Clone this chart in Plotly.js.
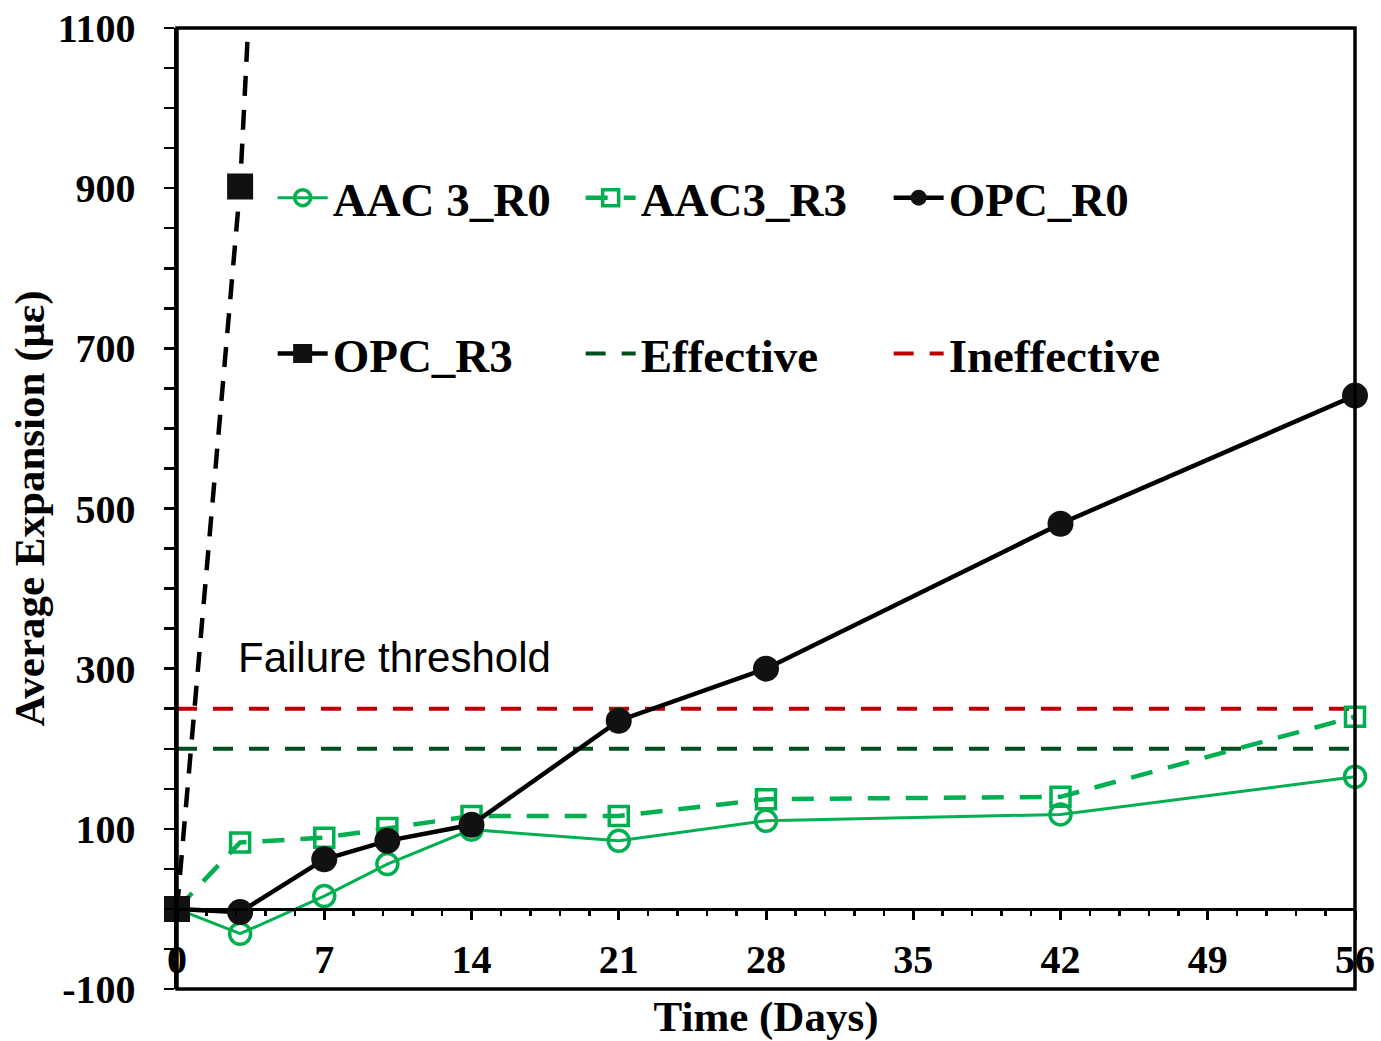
<!DOCTYPE html>
<html>
<head>
<meta charset="utf-8">
<script src="https://cdn.plot.ly/plotly-3.0.1.min.js"></script>
<style>html,body{margin:0;padding:0;background:#fff;}#chart{width:1381px;height:1041px;}</style>
</head>
<body>
<div id="chart"></div>
<script>
// ---- data ----
const days = [0, 3, 7, 10, 14, 21, 28, 42, 56];
const aac3R0 = [0, -31, 16, 56, 99, 85, 110, 118, 165];
const aac3R3 = [0, 83, 89, 101, 116, 116, 137, 140, 240];
const opcR0 = [0, -4, 62, 85, 105, 235, 300, 481, 641];
const opcR3Days = [0, 3, 7];
const opcR3 = [0, 902, 2990];
const limitDays = [0, 56];
const effectiveLimit = [200, 200];
const ineffectiveLimit = [250, 250];
const seriesNames = ['AAC 3_R0', 'AAC3_R3', 'OPC_R0', 'OPC_R3', 'Effective', 'Ineffective'];
const xTickVals = [0, 7, 14, 21, 28, 35, 42, 49, 56];
const xTickText = ['0', '7', '14', '21', '28', '35', '42', '49', '56'];
const yTickVals = [-100, 100, 300, 500, 700, 900, 1100];
const yTickText = ['-100', '100', '300', '500', '700', '900', '1100'];
const annotationText = 'Failure threshold';

const GREEN = '#00B050', DKGREEN = '#00501E', RED = '#C00000', BLACK = '#000000';
const serif = '"Liberation Serif", "Times New Roman", serif';

const traces = [
  {x: limitDays, y: effectiveLimit, name: seriesNames[4], mode: 'lines',
   line: {color: DKGREEN, width: 4, dash: '20px,16px'}, legend: 'legend2', legendrank: 5},
  {x: limitDays, y: ineffectiveLimit, name: seriesNames[5], mode: 'lines',
   line: {color: RED, width: 4, dash: '20px,16px'}, legend: 'legend2', legendrank: 6},
  {x: days, y: aac3R0, name: seriesNames[0], mode: 'lines+markers', cliponaxis: false,
   line: {color: GREEN, width: 3},
   marker: {symbol: 'circle-open', size: 21, color: GREEN, line: {width: 3.5, color: GREEN}},
   legend: 'legend', legendrank: 1},
  {x: days, y: aac3R3, name: seriesNames[1], mode: 'lines+markers', cliponaxis: false,
   line: {color: GREEN, width: 4.5, dash: '22px,16px'},
   marker: {symbol: 'square-open', size: 19, color: GREEN, line: {width: 3.5, color: GREEN}},
   legend: 'legend', legendrank: 2},
  {x: days, y: opcR0, name: seriesNames[2], mode: 'lines+markers', cliponaxis: false,
   line: {color: BLACK, width: 4.5},
   marker: {symbol: 'circle', size: 26, color: '#111111'},
   legend: 'legend', legendrank: 3},
  {x: opcR3Days, y: opcR3, name: seriesNames[3], mode: 'lines+markers', cliponaxis: false,
   line: {color: BLACK, width: 4.5, dash: '20px,14px'},
   marker: {symbol: 'square', size: 23, color: '#111111', line: {width: 3, color: '#111111'}},
   legend: 'legend2', legendrank: 4}
];

const tickFont = {family: serif, size: 40, color: BLACK, weight: 'bold'};
const titleFont = {family: serif, size: 43, color: BLACK, weight: 'bold'};
const legendFont = {family: serif, size: 47, color: BLACK, weight: 'bold'};

const legendBase = {
  orientation: 'h', x: 0.0812, xanchor: 'left', yanchor: 'middle',
  bgcolor: 'rgba(0,0,0,0)', borderwidth: 0, font: legendFont,
  entrywidth: 243, entrywidthmode: 'pixels', itemwidth: 50, traceorder: 'normal'
};

const layout = {
  width: 1381, height: 1041,
  margin: {l: 177, r: 26, t: 28, b: 52},
  paper_bgcolor: '#ffffff', plot_bgcolor: '#ffffff',
  showlegend: true,
  xaxis: {
    range: [0, 56], anchor: 'free', position: 100 / 1200,
    tickmode: 'array', tickvals: xTickVals, ticktext: xTickText,
    showline: true, linewidth: 3.5, linecolor: BLACK,
    ticks: 'outside', ticklen: 9, tickwidth: 3, tickcolor: BLACK,
    minor: {tick0: 0, dtick: 1.4, ticks: 'outside', ticklen: 5, tickwidth: 2.5, tickcolor: BLACK},
    showgrid: false, zeroline: false,
    tickfont: tickFont, ticklabelstandoff: 5,
    title: {text: 'Time (Days)', font: titleFont, standoff: 23}
  },
  yaxis: {
    range: [-100, 1100],
    tickmode: 'array', tickvals: yTickVals, ticktext: yTickText,
    showline: true, linewidth: 3.5, linecolor: BLACK,
    ticks: 'outside', ticklen: 10, tickwidth: 2.5, tickcolor: BLACK,
    minor: {tick0: -100, dtick: 50, ticks: 'outside', ticklen: 10, tickwidth: 2.5, tickcolor: BLACK},
    showgrid: false, zeroline: false,
    tickfont: tickFont, ticklabelstandoff: 20,
    title: {text: 'Average Expansion (με)', font: titleFont, standoff: 0}
  },
  legend: Object.assign({}, legendBase, {y: 0.823}),
  legend2: Object.assign({}, legendBase, {y: 0.6607}),
  shapes: [
    {type: 'rect', xref: 'paper', yref: 'paper', x0: 0, x1: 1, y0: 0, y1: 1,
     line: {color: BLACK, width: 3.5}, layer: 'above'}
  ],
  annotations: [
    {x: 2.8, y: 314, xref: 'x', yref: 'y', text: annotationText, showarrow: false,
     xanchor: 'left', yanchor: 'middle',
     font: {family: '"Liberation Sans", Arial, sans-serif', size: 42, color: BLACK}}
  ]
};

Plotly.newPlot('chart', traces, layout, {displayModeBar: false, staticPlot: true});
</script>
</body>
</html>
